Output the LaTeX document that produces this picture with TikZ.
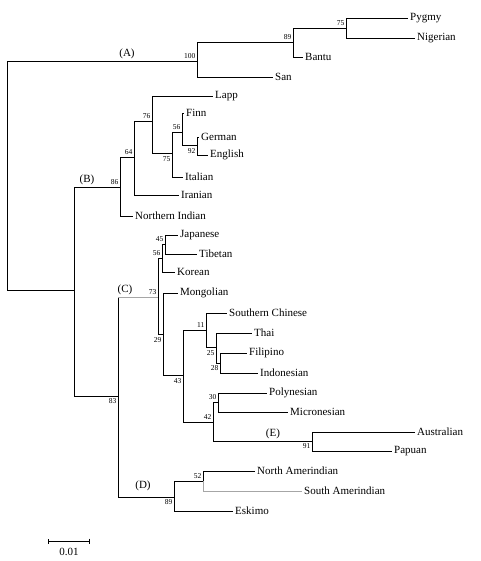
\documentclass[tikz,border=0pt]{standalone}
\usepackage{fontspec}
\setmainfont{Liberation Serif}
\usetikzlibrary{arrows.meta}

\begin{document}
\begin{tikzpicture}[
    x=1pt, y=-1pt,
    branch/.style={line width=0.9pt, black},
    faint/.style={line width=0.8pt, gray!70},
    taxon/.style={anchor=west, inner sep=2pt, font=\fontsize{11}{12}\selectfont},
    boot/.style={inner sep=0.5pt, font=\fontsize{7.5}{8}\selectfont},
    clade/.style={inner sep=0pt, font=\fontsize{11}{12}\selectfont}
]
\useasboundingbox (0,0) rectangle (480,561);

% Internal nodes (A)
\coordinate (root) at (7,175);
\coordinate (nA) at (197,61);
\coordinate (n89a) at (293,42);
\coordinate (n75a) at (346,28);

% Internal nodes (B)
\coordinate (nBC) at (74,290);
\coordinate (nB) at (120,187);
\coordinate (n64) at (134,157);
\coordinate (n76) at (152,121);
\coordinate (n75b) at (172,153);
\coordinate (n56b) at (182,132);
\coordinate (n92) at (197,145);

% Internal nodes (C), (D), (E)
\coordinate (n83) at (118,396);
\coordinate (nC) at (158,297);
\coordinate (n56c) at (162,258);
\coordinate (n45) at (165,244);
\coordinate (n29) at (163,334);
\coordinate (n43) at (183,375);
\coordinate (n11) at (206,330);
\coordinate (n25) at (216,347);
\coordinate (n28) at (220,363);
\coordinate (n42) at (213,422);
\coordinate (n30) at (218,402);
\coordinate (n91) at (312,441);
\coordinate (nD) at (174,497);
\coordinate (n52) at (203,481);

% Populations
\node[taxon] (pygmy) at (408,18) {Pygmy};
\node[taxon] (nigerian) at (415,38) {Nigerian};
\node[taxon] (bantu) at (303,57) {Bantu};
\node[taxon] (san) at (273,77) {San};
\node[taxon] (lapp) at (213,96) {Lapp};
\node[taxon] (finn) at (184,113) {Finn};
\node[taxon] (german) at (199,137) {German};
\node[taxon] (english) at (208,155) {English};
\node[taxon] (italian) at (183,177) {Italian};
\node[taxon] (iranian) at (179,195) {Iranian};
\node[taxon] (nindian) at (133,216) {Northern Indian};
\node[taxon] (japanese) at (178,235) {Japanese};
\node[taxon] (tibetan) at (197,254) {Tibetan};
\node[taxon] (korean) at (175,272) {Korean};
\node[taxon] (mongolian) at (178,293) {Mongolian};
\node[taxon] (schinese) at (227,313) {Southern Chinese};
\node[taxon] (thai) at (252,333) {Thai};
\node[taxon] (filipino) at (247,353) {Filipino};
\node[taxon] (indonesian) at (258,373) {Indonesian};
\node[taxon] (polynesian) at (267,393) {Polynesian};
\node[taxon] (micronesian) at (288,412) {Micronesian};
\node[taxon] (australian) at (415,432) {Australian};
\node[taxon] (papuan) at (392,451) {Papuan};
\node[taxon] (namerind) at (255,471) {North Amerindian};
\node[taxon] (samerind) at (302,491) {South Amerindian};
\node[taxon] (eskimo) at (233,511) {Eskimo};

% Branches (A)
\draw[branch] (root) |- (nA);
\draw[branch] (root) |- (nBC);
\draw[branch] (nA) |- (n89a);
\draw[branch] (nA) |- (san.west);
\draw[branch] (n89a) |- (n75a);
\draw[branch] (n89a) |- (bantu.west);
\draw[branch] (n75a) |- (pygmy.west);
\draw[branch] (n75a) |- (nigerian.west);

% Branches (B)
\draw[branch] (nBC) |- (nB);
\draw[branch] (nBC) |- (n83);
\draw[branch] (nB) |- (n64);
\draw[branch] (nB) |- (nindian.west);
\draw[branch] (n64) |- (n76);
\draw[branch] (n64) |- (iranian.west);
\draw[branch] (n76) |- (lapp.west);
\draw[branch] (n76) |- (n75b);
\draw[branch] (n75b) |- (n56b);
\draw[branch] (n75b) |- (italian.west);
\draw[branch] (n56b) |- (finn.west);
\draw[branch] (n56b) |- (n92);
\draw[branch] (n92) |- (german.west);
\draw[branch] (n92) |- (english.west);

% Branches (C) and (E)
\draw[branch] (n83) -- (n83 |- nC);
\draw[faint] (n83 |- nC) -- (nC);
\draw[branch] (n83) |- (nD);
\draw[branch] (nC) |- (n56c);
\draw[branch] (nC) |- (n29);
\draw[branch] (n56c) |- (n45);
\draw[branch] (n56c) |- (korean.west);
\draw[branch] (n45) |- (japanese.west);
\draw[branch] (n45) |- (tibetan.west);
\draw[branch] (n29) |- (mongolian.west);
\draw[branch] (n29) |- (n43);
\draw[branch] (n43) |- (n11);
\draw[branch] (n43) |- (n42);
\draw[branch] (n11) |- (schinese.west);
\draw[branch] (n11) |- (n25);
\draw[branch] (n25) |- (thai.west);
\draw[branch] (n25) |- (n28);
\draw[branch] (n28) |- (filipino.west);
\draw[branch] (n28) |- (indonesian.west);
\draw[branch] (n42) |- (n30);
\draw[branch] (n42) |- (n91);
\draw[branch] (n30) |- (polynesian.west);
\draw[branch] (n30) |- (micronesian.west);
\draw[branch] (n91) |- (australian.west);
\draw[branch] (n91) |- (papuan.west);

% Branches (D)
\draw[branch] (nD) |- (n52);
\draw[branch] (nD) |- (eskimo.west);
\draw[branch] (n52) |- (namerind.west);
\draw[faint] (n52) |- (samerind.west);

% Clade labels
\node[clade, anchor=south] (cladeA) at (127,59) {(A)};
\node[clade, anchor=south] (cladeB) at (87,185) {(B)};
\node[clade, anchor=south] (cladeC) at (125,295) {(C)};
\node[clade, anchor=south] (cladeD) at (143,491) {(D)};
\node[clade, anchor=south] (cladeE) at (273,439) {(E)};

% Bootstrap values
\node[boot, anchor=south east] (bs100) at (196,59) {100};
\node[boot, anchor=south east] (bs89a) at (292,40) {89};
\node[boot, anchor=south east] (bs75a) at (345,26) {75};
\node[boot, anchor=south east] (bs86) at (119,185) {86};
\node[boot, anchor=south east] (bs64) at (133,155) {64};
\node[boot, anchor=south east] (bs76) at (151,119) {76};
\node[boot, anchor=south east] (bs56b) at (181,130) {56};
\node[boot, anchor=north east] (bs75b) at (171,156) {75};
\node[boot, anchor=north east] (bs92) at (196,148) {92};
\node[boot, anchor=south east] (bs73) at (157,295) {73};
\node[boot, anchor=south east] (bs45) at (164,242) {45};
\node[boot, anchor=south east] (bs56c) at (161,256) {56};
\node[boot, anchor=north east] (bs29) at (162,337) {29};
\node[boot, anchor=north east] (bs43) at (182,378) {43};
\node[boot, anchor=south east] (bs11) at (205,328) {11};
\node[boot, anchor=north east] (bs25) at (215,350) {25};
\node[boot, anchor=north east] (bs28) at (219,365) {28};
\node[boot, anchor=south east] (bs42) at (212,420) {42};
\node[boot, anchor=south east] (bs30) at (217,400) {30};
\node[boot, anchor=north east] (bs91) at (311,443) {91};
\node[boot, anchor=north east] (bs83) at (117,398) {83};
\node[boot, anchor=north east] (bs89d) at (173,499) {89};
\node[boot, anchor=south east] (bs52) at (202,479) {52};

% Scale bar
\coordinate (barL) at (48,541);
\coordinate (barR) at (90,541);
\draw[line width=0.8pt, {Bar[width=5pt]}-{Bar[width=5pt]}] (barL) -- (barR);
\node[clade, anchor=north] (scale) at (69,548) {0.01};

\end{tikzpicture}
\end{document}
